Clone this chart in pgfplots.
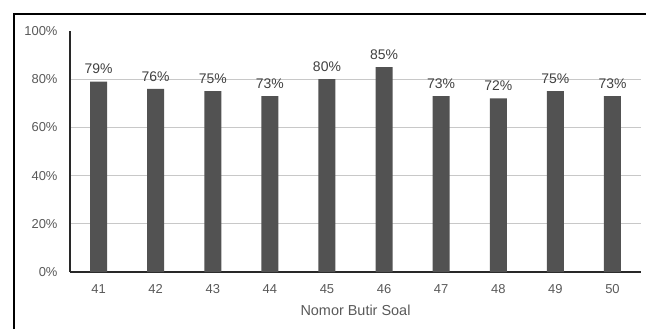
\documentclass[border=0pt]{standalone}
\usepackage{pgfplots}
\pgfplotsset{compat=1.18}
\usepackage{fontspec}
\setmainfont{Liberation Sans}
\definecolor{barfill}{RGB}{82,82,82}
\definecolor{labeltext}{RGB}{89,89,89}
\definecolor{valtext}{RGB}{64,64,64}
\definecolor{gridc}{RGB}{200,200,200}
\definecolor{axisc}{RGB}{40,40,40}
\begin{document}
\begin{tikzpicture}[x=1bp,y=1bp]
\path[use as bounding box] (0,0) rectangle (646,329);
% outer frame (top and left edges)
\draw[black, line width=1.4bp] (14,0) -- (14,315) -- (646,315);
\begin{axis}[
  at={(70bp,57bp)}, anchor=south west,
  scale only axis, width=571bp, height=241bp,
  xmin=-0.5, xmax=9.5, ymin=0, ymax=100,
  axis x line*=bottom, axis y line*=left,
  axis line style={axisc, line width=1.2bp, -},
  xtick=data,
  xticklabels={41,42,43,44,45,46,47,48,49,50},
  ytick={0,20,40,60,80},
  extra y ticks={100},
  extra y tick style={grid=none},
  ymajorgrids, grid style={gridc, line width=0.9bp},
  major tick length=0pt,
  yticklabel={\pgfmathprintnumber{\tick}\%},
  /pgf/number format/assume math mode=true,
  ticklabel style={font=\fontsize{13}{15}\selectfont, text=labeltext},
  yticklabel style={xshift=-9bp},
  xticklabel style={yshift=-9bp},
  xlabel={Nomor Butir Soal},
  xlabel style={font=\fontsize{14.5}{16}\selectfont, text=labeltext, yshift=-4bp},
  nodes near coords={\pgfmathprintnumber{\pgfplotspointmeta}\%},
  nodes near coords style={font=\fontsize{14}{16}\selectfont, text=valtext, yshift=4bp},
  every axis plot/.append style={/pgf/number format/assume math mode=true},
]
\addplot[ybar, bar width=17bp, fill=barfill, draw=none] coordinates {
  (0,79) (1,76) (2,75) (3,73) (4,80) (5,85) (6,73) (7,72) (8,75) (9,73)
};
\end{axis}
\end{tikzpicture}
\end{document}
